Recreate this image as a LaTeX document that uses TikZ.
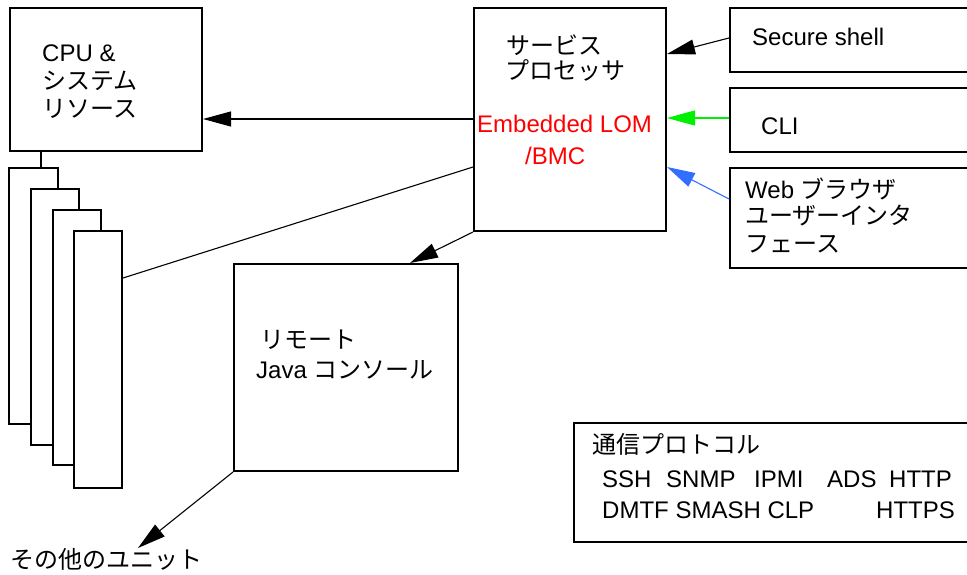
\documentclass[tikz,border=0pt]{standalone}
\usepackage{fontspec}
\setmainfont{Liberation Sans}
\newfontfamily\jp{Noto Sans CJK JP}
\usetikzlibrary{arrows.meta}
\definecolor{lomred}{RGB}{255,0,0}
\definecolor{cligreen}{RGB}{0,240,0}
\definecolor{webblue}{RGB}{50,110,255}
\begin{document}
\begin{tikzpicture}[x=1pt,y=-1pt,
  box/.style={draw, line width=2pt, fill=white, anchor=north west, inner sep=0pt},
  txt/.style={anchor=base west, inner sep=0pt, font=\fontsize{24}{28}\selectfont},
  conn/.style={line width=1.1pt},
  arr/.style={conn, -{Triangle[length=28pt,width=15pt]}},
]
\useasboundingbox (0,0) rectangle (967,575);
\clip (0,0) rectangle (967,575);

% boxes
\node[box, minimum width=192pt, minimum height=143pt] (cpu) at (9,7) {};
\node[box, minimum width=49pt, minimum height=256pt] (s1) at (8,167) {};
\node[box, minimum width=48pt, minimum height=256pt] (s2) at (30,188) {};
\node[box, minimum width=48pt, minimum height=255pt] (s3) at (52,209) {};
\node[box, minimum width=48pt, minimum height=257pt] (s4) at (73,230) {};
\node[box, minimum width=192pt, minimum height=223pt] (sp) at (473,7) {};
\node[box, minimum width=224pt, minimum height=207pt] (java) at (233,263) {};
\node[box, minimum width=260pt, minimum height=64pt] (ssh) at (729,7) {};
\node[box, minimum width=260pt, minimum height=64pt] (cli) at (729,87) {};
\node[box, minimum width=260pt, minimum height=100pt] (web) at (729,167) {};
\node[box, minimum width=420pt, minimum height=119pt] (proto) at (573,422) {};

% connectors
\draw[line width=2pt] (cpu.south -| 41,0) -- (s1.north -| 41,0);
\draw[conn] (s4.east |- 0,278) -- (sp.west |- 0,167);
\draw[arr] (sp.west |- 0,119) -- (cpu.east |- 0,119);
\draw[arr] (ssh.west |- 0,38) -- (sp.east |- 0,54);
\draw[arr, cligreen] (cli.west |- 0,118) -- (sp.east |- 0,118);
\draw[arr, webblue] (web.west |- 0,199) -- (sp.east |- 0,167);
\draw[arr] (sp.south west) -- (java.north -| 410,0);
\coordinate (other) at (138,548);
\draw[arr] (java.south west) -- (other);

% texts
\node[txt] (t1) at (42,62) {CPU \&};
\node[txt] (t2) at (42,90) {\jp システム};
\node[txt] (t3) at (42,118) {\jp リソース};
\node[txt] (t4) at (506,55) {\jp サービス};
\node[txt] (t5) at (505,80) {\jp プロセッサ};
\node[txt, text=lomred] (t6) at (477,133) {Embedded LOM};
\node[txt, text=lomred] (t7) at (525,165) {/BMC};
\node[txt] (t8) at (752,46) {Secure shell};
\node[txt] (t9) at (761,135) {CLI};
\node[txt] (t10) at (745,198) {Web {\jp ブラウザ}};
\node[txt] (t11) at (745,224) {\jp ユーザーインタ};
\node[txt] (t12) at (745,252) {\jp フェース};
\node[txt] (t13) at (260,348) {\jp リモート};
\node[txt] (t14) at (256,378) {Java {\jp コンソール}};
\node[txt] (t15) at (10,568) {\jp その他のユニット};
\node[txt] (t16) at (592,453) {\jp 通信プロトコル};
\node[txt] (p1) at (602,487) {SSH};
\node[txt] (p2) at (666,487) {SNMP};
\node[txt] (p3) at (754,487) {IPMI};
\node[txt] (p4) at (827,487) {ADS};
\node[txt] (p5) at (889,487) {HTTP};
\node[txt] (p6) at (602,518) {DMTF SMASH CLP};
\node[txt] (p7) at (876,518) {HTTPS};
\end{tikzpicture}
\end{document}
